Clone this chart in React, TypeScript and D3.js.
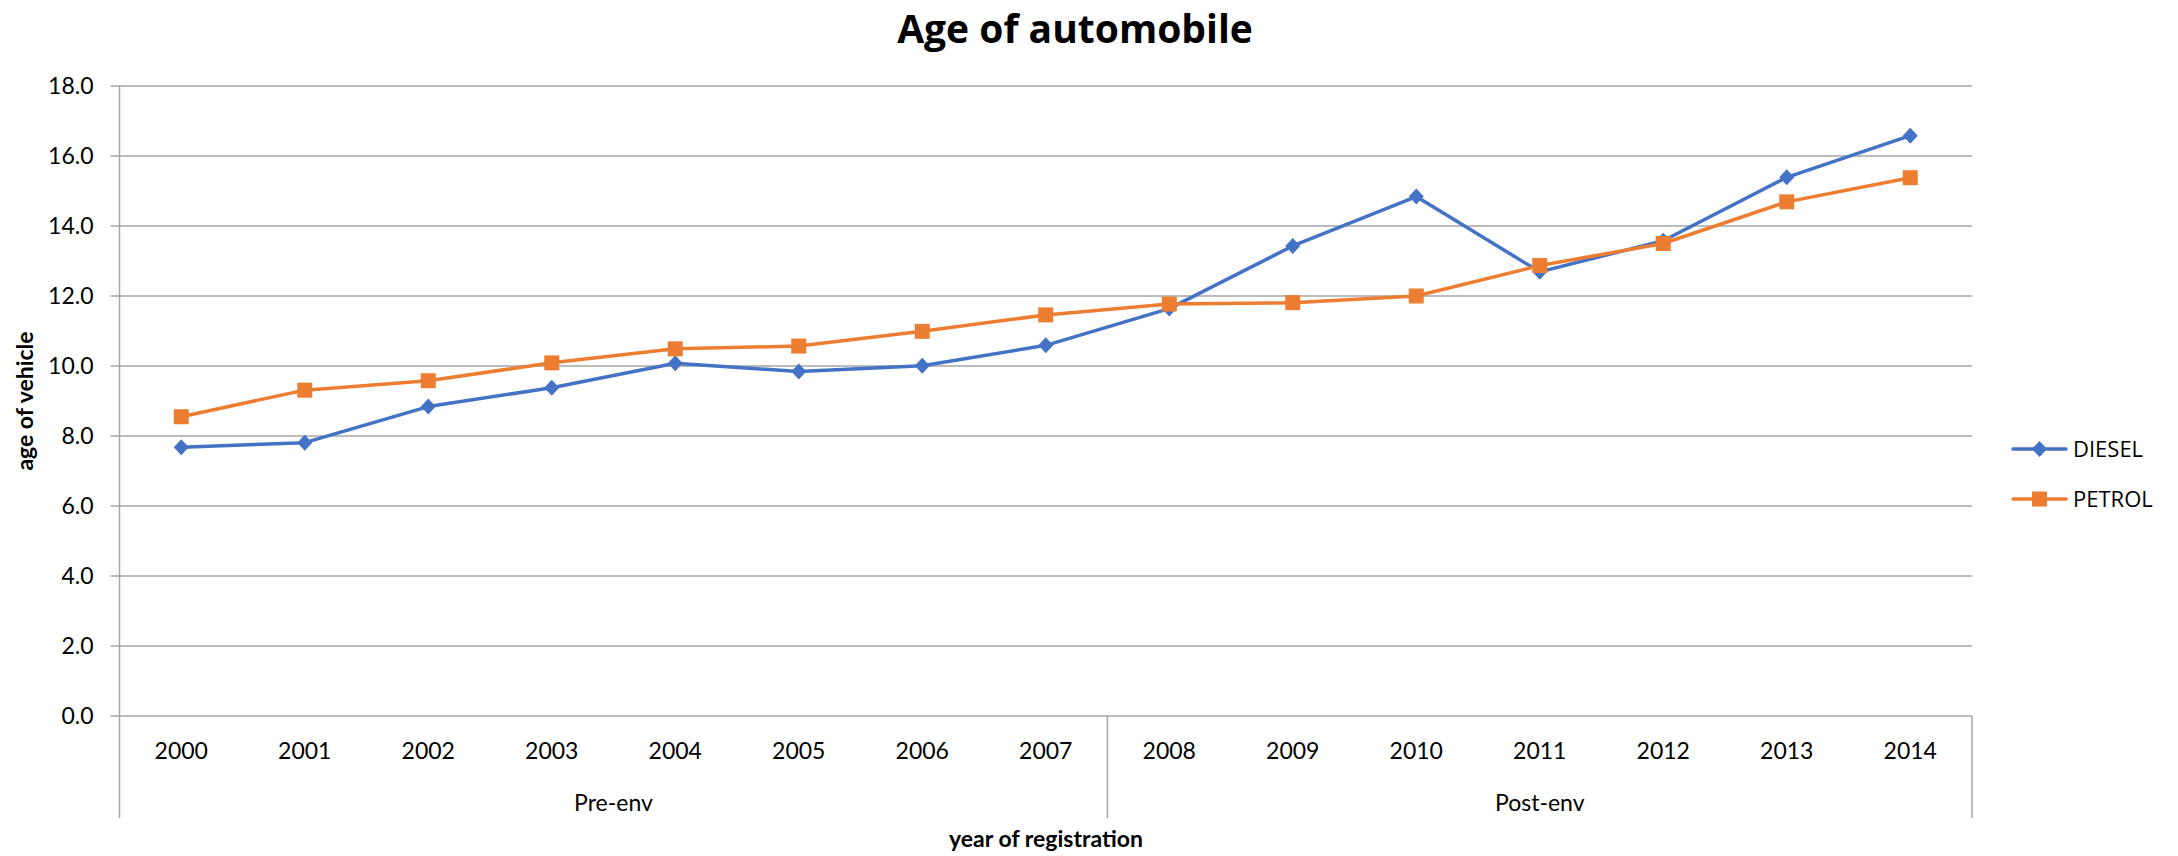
import React, { useEffect, useRef } from 'react';
import * as d3 from 'd3';

const years = ['2000', '2001', '2002', '2003', '2004', '2005', '2006', '2007', '2008', '2009', '2010', '2011', '2012', '2013', '2014'];
const dieselAge = [7.68, 7.81, 8.84, 9.38, 10.08, 9.84, 10.01, 10.59, 11.64, 13.43, 14.84, 12.69, 13.58, 15.39, 16.58];
const petrolAge = [8.55, 9.31, 9.58, 10.09, 10.49, 10.57, 10.99, 11.46, 11.77, 11.81, 12.0, 12.87, 13.5, 14.69, 15.38];
const groupNames = ['Pre-env', 'Post-env'];
const groupSizes = [8, 7];
const yTicks = [0, 2, 4, 6, 8, 10, 12, 14, 16, 18];

const WIDTH = 2178;
const HEIGHT = 856;
const PLOT = { left: 119.5, right: 1972, top: 86, bottom: 716, catBottom: 818 };
const FONT = 'Lato, "Open Sans", sans-serif';
const GRID = '#A6A6A6';

const series = [
  { name: 'DIESEL', values: dieselAge, color: '#4472C4', marker: 'diamond' },
  { name: 'PETROL', values: petrolAge, color: '#ED7D31', marker: 'square' },
];

const App = () => {
  const svgRef = useRef<SVGSVGElement | null>(null);

  useEffect(() => {
    if (!svgRef.current) return;
    const svg = d3.select(svgRef.current);
    svg.selectAll('*').remove();

    const x = d3.scaleBand().domain(years).range([PLOT.left, PLOT.right]).paddingInner(0).paddingOuter(0);
    const y = d3.scaleLinear().domain([0, 18]).range([PLOT.bottom, PLOT.top]);
    const cx = (d: string) => (x(d) || 0) + x.bandwidth() / 2;

    // title
    svg.append('text')
      .attr('x', 1075)
      .attr('y', 43)
      .attr('text-anchor', 'middle')
      .attr('font-family', '"Open Sans", sans-serif')
      .attr('font-size', 39)
      .attr('font-weight', 'bold')
      .attr('fill', '#000')
      .text('Age of automobile');

    // gridlines + y ticks
    const gridG = svg.append('g');
    gridG.selectAll('line')
      .data(yTicks)
      .enter()
      .append('line')
      .attr('x1', PLOT.left - 9)
      .attr('x2', PLOT.right)
      .attr('y1', d => y(d))
      .attr('y2', d => y(d))
      .attr('stroke', GRID)
      .attr('stroke-width', 1.5);

    gridG.selectAll('text')
      .data(yTicks)
      .enter()
      .append('text')
      .attr('x', PLOT.left - 26)
      .attr('y', d => y(d))
      .attr('dy', '0.35em')
      .attr('text-anchor', 'end')
      .attr('font-family', FONT)
      .attr('font-size', 23)
      .attr('fill', '#000')
      .text(d => d.toFixed(1));

    // value axis line, running down through the category area
    svg.append('line')
      .attr('x1', PLOT.left).attr('x2', PLOT.left)
      .attr('y1', PLOT.top).attr('y2', PLOT.catBottom)
      .attr('stroke', GRID).attr('stroke-width', 1.5);

    // group separators
    let acc = 0;
    const bounds: number[] = [];
    groupSizes.forEach(n => {
      acc += n;
      bounds.push(acc);
    });
    bounds.forEach(b => {
      const xp = b < years.length ? (x(years[b]) || 0) : PLOT.right;
      svg.append('line')
        .attr('x1', xp).attr('x2', xp)
        .attr('y1', PLOT.bottom).attr('y2', PLOT.catBottom)
        .attr('stroke', GRID).attr('stroke-width', 1.5);
    });

    // category labels
    svg.append('g')
      .selectAll('text')
      .data(years)
      .enter()
      .append('text')
      .attr('x', d => cx(d))
      .attr('y', 751)
      .attr('dy', '0.35em')
      .attr('text-anchor', 'middle')
      .attr('font-family', FONT)
      .attr('font-size', 23)
      .attr('fill', '#000')
      .text(d => d);

    let start = 0;
    groupNames.forEach((g, i) => {
      const x0 = x(years[start]) || 0;
      const endIdx = start + groupSizes[i];
      const x1 = endIdx < years.length ? (x(years[endIdx]) || 0) : PLOT.right;
      svg.append('text')
        .attr('x', (x0 + x1) / 2)
        .attr('y', 803)
        .attr('dy', '0.35em')
        .attr('text-anchor', 'middle')
        .attr('font-family', FONT)
        .attr('font-size', 23)
        .attr('fill', '#000')
        .text(g);
      start = endIdx;
    });

    // axis titles
    svg.append('text')
      .attr('x', 1046)
      .attr('y', 839)
      .attr('dy', '0.35em')
      .attr('text-anchor', 'middle')
      .attr('font-family', FONT)
      .attr('font-size', 23)
      .attr('font-weight', 'bold')
      .text('year of registration');

    svg.append('text')
      .attr('transform', `translate(25, ${(PLOT.top + PLOT.bottom) / 2}) rotate(-90)`)
      .attr('dy', '0.35em')
      .attr('text-anchor', 'middle')
      .attr('font-family', FONT)
      .attr('font-size', 23)
      .attr('font-weight', 'bold')
      .text('age of vehicle');

    const drawMarker = (g: d3.Selection<SVGGElement, unknown, null, undefined>, kind: string, px: number, py: number, color: string) => {
      if (kind === 'diamond') {
        g.append('path')
          .attr('d', `M${px},${py - 8} L${px + 7.5},${py} L${px},${py + 8} L${px - 7.5},${py} Z`)
          .attr('fill', color);
      } else {
        g.append('rect')
          .attr('x', px - 7.5).attr('y', py - 7.5)
          .attr('width', 15).attr('height', 15)
          .attr('fill', color);
      }
    };

    const line = d3.line<number>()
      .x((_, i) => cx(years[i]))
      .y(d => y(d));

    series.forEach(s => {
      const g = svg.append('g');
      g.append('path')
        .datum(s.values)
        .attr('d', line)
        .attr('fill', 'none')
        .attr('stroke', s.color)
        .attr('stroke-width', 3.5)
        .attr('stroke-linejoin', 'round');
      s.values.forEach((v, i) => drawMarker(g, s.marker, cx(years[i]), y(v), s.color));
    });

    // legend
    series.forEach((s, i) => {
      const ly = 449 + i * 50;
      const g = svg.append('g');
      g.append('line')
        .attr('x1', 2013).attr('x2', 2066)
        .attr('y1', ly).attr('y2', ly)
        .attr('stroke', s.color)
        .attr('stroke-width', 3.5)
        .attr('stroke-linecap', 'round');
      drawMarker(g, s.marker, 2039.5, ly, s.color);
      g.append('text')
        .attr('x', 2073)
        .attr('y', ly)
        .attr('dy', '0.35em')
        .attr('font-family', '"Open Sans", sans-serif')
        .attr('font-size', 22)
        .attr('fill', '#000')
        .text(s.name);
    });
  }, []);

  return (
    <svg
      ref={svgRef}
      width={WIDTH}
      height={HEIGHT}
      style={{ position: 'absolute', left: 0, top: 0, background: '#fff' }}
    />
  );
};

export default App;
